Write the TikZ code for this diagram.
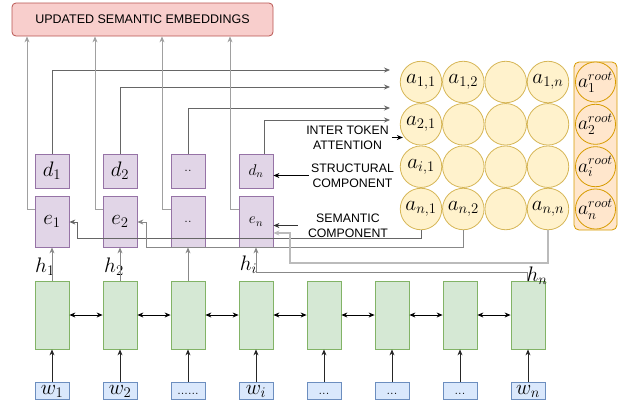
\RequirePackage{fix-cm}
\documentclass[tikz,border=0pt]{standalone}
\usepackage{fontspec}
\newfontfamily\labfont{Liberation Sans}
\usetikzlibrary{arrows.meta,calc}
\definecolor{redF}{HTML}{F8CECC}\definecolor{redD}{HTML}{B85450}
\definecolor{purF}{HTML}{E1D5E7}\definecolor{purD}{HTML}{9673A6}
\definecolor{grnF}{HTML}{D5E8D4}\definecolor{grnD}{HTML}{82B366}
\definecolor{bluF}{HTML}{DAE8FC}\definecolor{bluD}{HTML}{6C8EBF}
\definecolor{yelF}{HTML}{FFF2CC}\definecolor{yelD}{HTML}{D6B656}
\definecolor{oraF}{HTML}{FFE6CC}\definecolor{oraD}{HTML}{D79B00}
\definecolor{lnA}{HTML}{666666}\definecolor{lnB}{HTML}{A0A0A0}
\definecolor{lnC}{HTML}{888888}\definecolor{lnD}{HTML}{BBBBBB}
\begin{document}
\begin{tikzpicture}[x=1pt,y=-1pt,
 every node/.style={inner sep=0pt},
 mth/.style={font=\fontsize{21}{23}\selectfont},
 mths/.style={font=\fontsize{15.5}{17}\selectfont},
 mthr/.style={font=\fontsize{19.5}{21}\selectfont},
 dots/.style={font=\fontsize{13}{14}\selectfont},
 topbox/.style={draw=redD,fill=redF,rounded corners=4pt,line width=0.8pt,minimum width=261pt,minimum height=33pt,font=\labfont\fontsize{12.5}{14}\selectfont},
 pbox/.style={draw=purD,fill=purF,line width=0.8pt,minimum width=34pt,mth},
 gbox/.style={draw=grnD,fill=grnF,line width=0.8pt,minimum width=34pt,minimum height=68pt},
 wbox/.style={draw=bluD,fill=bluF,line width=0.8pt,minimum width=34pt,minimum height=17pt,text height=10.5pt,text depth=2pt,mth},
 att/.style={circle,draw=yelD,fill=yelF,line width=0.8pt,minimum size=41.5pt,mth},
 rootc/.style={circle,draw=oraD,fill=oraF,line width=0.8pt,minimum size=40pt,mthr},
 lab/.style={font=\labfont\fontsize{12.3}{15}\selectfont,align=center},
 arr/.style={-{Stealth[length=6pt,width=5pt]}},
 darr/.style={{Stealth[length=6pt,width=5pt]}-{Stealth[length=6pt,width=5pt]}},
 dl/.style={draw=lnA,line width=0.8pt},
 tl/.style={draw=lnB,line width=0.8pt},
 hl/.style={draw=lnC,line width=0.8pt},
]
\useasboundingbox (0,0) rectangle (624,408);
% top box
\node[topbox] (top) at (142.5,19.5) {UPDATED SEMANTIC EMBEDDINGS};
% d and e boxes
\node[pbox,minimum height=34pt] (d1) at (52,171) {$d_1$};
\node[pbox,minimum height=34pt] (d2) at (120,171) {$d_2$};
\node[pbox,minimum height=34pt,dots] (d3) at (188,171) {..};
\node[pbox,minimum height=34pt,mths] (d4) at (256,171) {$d_n$};
\node[pbox,minimum height=51pt] (e1) at (52,221.5) {$e_1$};
\node[pbox,minimum height=51pt] (e2) at (120,221.5) {$e_2$};
\node[pbox,minimum height=51pt,dots] (e3) at (188,221.5) {..};
\node[pbox,minimum height=51pt,mths] (e4) at (256,221.5) {$e_n$};
% green boxes
\foreach \k in {1,...,8} \node[gbox] (g\k) at ({52+68*(\k-1)},315) {};
% word boxes
\node[wbox] (w1) at (52,390.5) {$w_1$};
\node[wbox] (w2) at (120,390.5) {$w_2$};
\node[wbox,dots] (w3) at (188,390.5) {......};
\node[wbox] (w4) at (256,390.5) {$w_i$};
\node[wbox,dots] (w5) at (324,390.5) {...};
\node[wbox,dots] (w6) at (392,390.5) {...};
\node[wbox,dots] (w7) at (460,390.5) {...};
\node[wbox] (w8) at (528,390.5) {$w_n$};
% attention grid
\node[att] (c11) at (421,82) {$a_{1,1}$};
\node[att] (c12) at (463.3,82) {$a_{1,2}$};
\node[att] (c13) at (505.7,82) {};
\node[att] (c14) at (548,82) {$a_{1,n}$};
\node[att] (c21) at (421,124.3) {$a_{2,1}$};
\node[att] (c22) at (463.3,124.3) {};
\node[att] (c23) at (505.7,124.3) {};
\node[att] (c24) at (548,124.3) {};
\node[att] (c31) at (421,166.7) {$a_{i,1}$};
\node[att] (c32) at (463.3,166.7) {};
\node[att] (c33) at (505.7,166.7) {};
\node[att] (c34) at (548,166.7) {};
\node[att] (c41) at (421,209) {$a_{n,1}$};
\node[att] (c42) at (463.3,209) {$a_{n,2}$};
\node[att] (c43) at (505.7,209) {};
\node[att] (c44) at (548,209) {$a_{n,n}$};
% root column
\node[draw=oraD,fill=oraF,rounded corners=5pt,minimum width=43pt,minimum height=168pt,line width=0.8pt] (rbox) at (595.5,146) {};
\node[rootc] (r1) at (595.5,82) {$a_1^{root}$};
\node[rootc] (r2) at (595.5,124.3) {$a_2^{root}$};
\node[rootc] (r3) at (595.5,166.7) {$a_i^{root}$};
\node[rootc] (r4) at (595.5,209) {$a_n^{root}$};
% text labels
\node[lab] (inter) at (347.5,137.5) {INTER TOKEN\\ATTENTION};
\node[lab] (struct) at (352.5,175.5) {STRUCTURAL\\COMPONENT};
\node[lab] (sem) at (348,225.5) {SEMANTIC\\COMPONENT};
% h labels
\node[mth] (h1) at (45,267) {$h_1$};
\node[mth] (h2) at (114,267) {$h_2$};
\node[mth] (hi) at (248.5,265) {$h_i$};
\node[mth] (hn) at (537,276) {$h_n$};
% connectors d -> attention
\coordinate (attin) at (390,0);
\draw[dl,arr] (d1.north) |- (attin |- 0,70);
\draw[dl,arr] (d2.north) |- (attin |- 0,87);
\draw[dl,arr] (d3.north) |- (attin |- 0,108);
\draw[dl,arr] ([xshift=8pt]d4.north) |- (attin |- 0,120);
% e -> updated embeddings
\draw[tl,arr] (e1.west |- 0,209) -| (top.south -| 27,0);
\draw[tl,arr] (e2.west |- 0,209) -| (top.south -| 95,0);
\draw[tl,arr] (e3.west |- 0,209) -| (top.south -| 162,0);
\draw[tl,arr] (e4.west |- 0,209) -| (top.south -| 230,0);
% attention -> e
\draw[dl,arr] (c41.south) |- (77,238) |- (e1.east |- 0,222);
\draw[hl,arr] (c42.south) |- (146,247) |- (e2.east |- 0,222);
\draw[draw=lnD,line width=1.1pt,arr] (c44.south) |- (290,263) |- (e4.east |- 0,233);
% h -> e
\draw[hl,arr] (g1.north) -- (e1.south);
\draw[hl,arr] (g2.north) -- (e2.south);
\draw[hl,arr] (g3.north) -- (e3.south);
\draw[hl,arr] ([xshift=-1pt]g8.north) |- (e4.south |- 0,272) -- (e4.south);
% inputs and recurrence
\foreach \k in {1,...,8} \draw[arr,line width=0.8pt,draw=black!85] (w\k.north) -- (g\k.south);
\foreach \k [evaluate=\k as \n using int(\k+1)] in {1,...,7} \draw[darr,line width=0.8pt] (g\k.east) -- (g\n.west);
% label arrows
\draw[arr,line width=0.8pt] ([xshift=3pt]inter.east) -- ([xshift=3pt]inter.east -| c21.west);
\draw[arr,line width=0.8pt] ([xshift=-2pt]struct.west) -- (struct.west -| d4.east);
\draw[arr,line width=0.8pt,draw=black!80] ([xshift=-10pt]sem.west) -- (sem.west -| e4.east);
\end{tikzpicture}
\end{document}
